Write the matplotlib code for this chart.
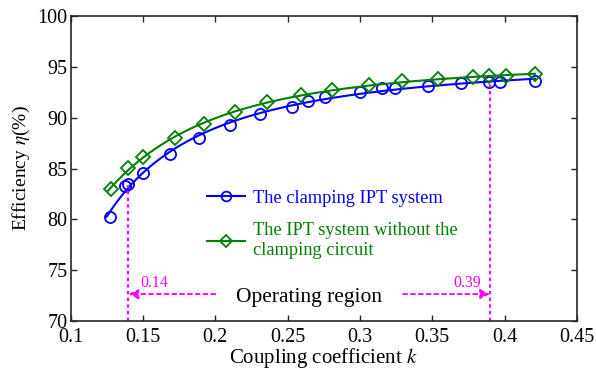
import numpy as np
import matplotlib
matplotlib.use("Agg")
import matplotlib.pyplot as plt

# coupling coefficient / efficiency readings
k_clamp = [0.127, 0.138, 0.140, 0.150, 0.169, 0.189, 0.210, 0.231, 0.253, 0.264,
           0.276, 0.300, 0.315, 0.324, 0.347, 0.370, 0.389, 0.397, 0.421]
eta_clamp = [80.2, 83.3, 83.5, 84.6, 86.4, 88.0, 89.3, 90.4, 91.1, 91.6,
             92.0, 92.5, 92.9, 92.9, 93.1, 93.4, 93.5, 93.5, 93.6]

k_plain = [0.128, 0.140, 0.150, 0.172, 0.192, 0.214, 0.236, 0.259, 0.281, 0.306,
           0.329, 0.354, 0.378, 0.389, 0.401, 0.421]
eta_plain = [83.0, 85.1, 86.1, 88.0, 89.4, 90.6, 91.5, 92.2, 92.7, 93.2,
             93.6, 93.8, 94.0, 94.1, 94.1, 94.3]

k_low, k_high = 0.14, 0.39
eta_low, eta_high = 83.4, 93.5

BLUE, GREEN, MAG = "#0000FF", "#007F00", "#FF00FF"

plt.rcParams["font.family"] = ["Liberation Serif", "DejaVu Serif"]
plt.rcParams["mathtext.fontset"] = "stix"


def smooth(k, eta):
    # least squares curve in 1/k, just for drawing the trend line
    k = np.asarray(k)
    c = np.polyfit(1 / k, eta, 3)
    kk = np.linspace(k.min() - 0.002, k.max(), 200)
    return kk, np.polyval(c, 1 / kk)


fig = plt.figure(figsize=(5.96, 3.69), dpi=100)
ax = fig.add_axes([0.1183, 0.13, 0.8497, 0.8266])

for k, eta, col, mk, ms, lab in [
    (k_clamp, eta_clamp, BLUE, "o", 8, "The clamping IPT system"),
    (k_plain, eta_plain, GREEN, "D", 7, "The IPT system without the\nclamping circuit"),
]:
    kk, ee = smooth(k, eta)
    ax.plot(kk, ee, color=col, lw=1.5)
    ax.plot(k, eta, ls="none", marker=mk, ms=ms, mfc="none", mec=col, mew=1.3)
    ax.plot([], [], color=col, lw=1.5, marker=mk, ms=ms - 1,
            mfc="none", mec=col, mew=1.3, label=lab)

# operating region
ax.plot([k_low, k_low], [70, eta_low], ls=(0, (1.5, 1.5)), color=MAG, lw=1.6)
ax.plot([k_high, k_high], [70, eta_high], ls=(0, (1.5, 1.5)), color=MAG, lw=1.6)
arrow = dict(arrowstyle="-|>", ls=(0, (2, 2)), color=MAG, lw=1.4,
             mutation_scale=14, shrinkA=0, shrinkB=0)
ax.annotate("", xy=(k_low, 72.65), xytext=(0.2, 72.65), arrowprops=arrow)
ax.annotate("", xy=(k_high, 72.65), xytext=(0.33, 72.65), arrowprops=arrow)
ax.text(0.1485, 72.95, "0.14", color=MAG, fontsize=11.5, va="bottom")
ax.text(0.384, 72.95, "0.39", color=MAG, fontsize=11.5, va="bottom", ha="right")
ax.text(0.265, 72.3, "Operating region", fontsize=15.5, ha="center", va="center")

leg = ax.legend(loc="upper left", bbox_to_anchor=(0.255, 0.455), frameon=False,
                fontsize=13.2, handlelength=2.1, handletextpad=0.4,
                labelspacing=0.85, borderaxespad=0)
for txt, col in zip(leg.get_texts(), [BLUE, GREEN]):
    txt.set_color(col)

ax.set_xlim(0.1, 0.45)
ax.set_ylim(70, 100)
ax.set_xticks(np.arange(0.1, 0.451, 0.05))
ax.set_xticklabels(["0.1", "0.15", "0.2", "0.25", "0.3", "0.35", "0.4", "0.45"])
ax.set_yticks(np.arange(70, 101, 5))
ax.tick_params(direction="in", top=True, right=True, labelsize=14.5,
               length=4, width=1, color="#262626")
ax.tick_params(axis="x", pad=5)
ax.tick_params(axis="y", pad=2)
for s in ax.spines.values():
    s.set_color("#262626")
    s.set_linewidth(1.2)

ax.set_xlabel("Coupling coefficient $k$", fontsize=15, labelpad=-1)
ax.set_ylabel(r"Efficiency $\eta$(%)", fontsize=14, labelpad=4)

fig.savefig("out.png", dpi=100)
